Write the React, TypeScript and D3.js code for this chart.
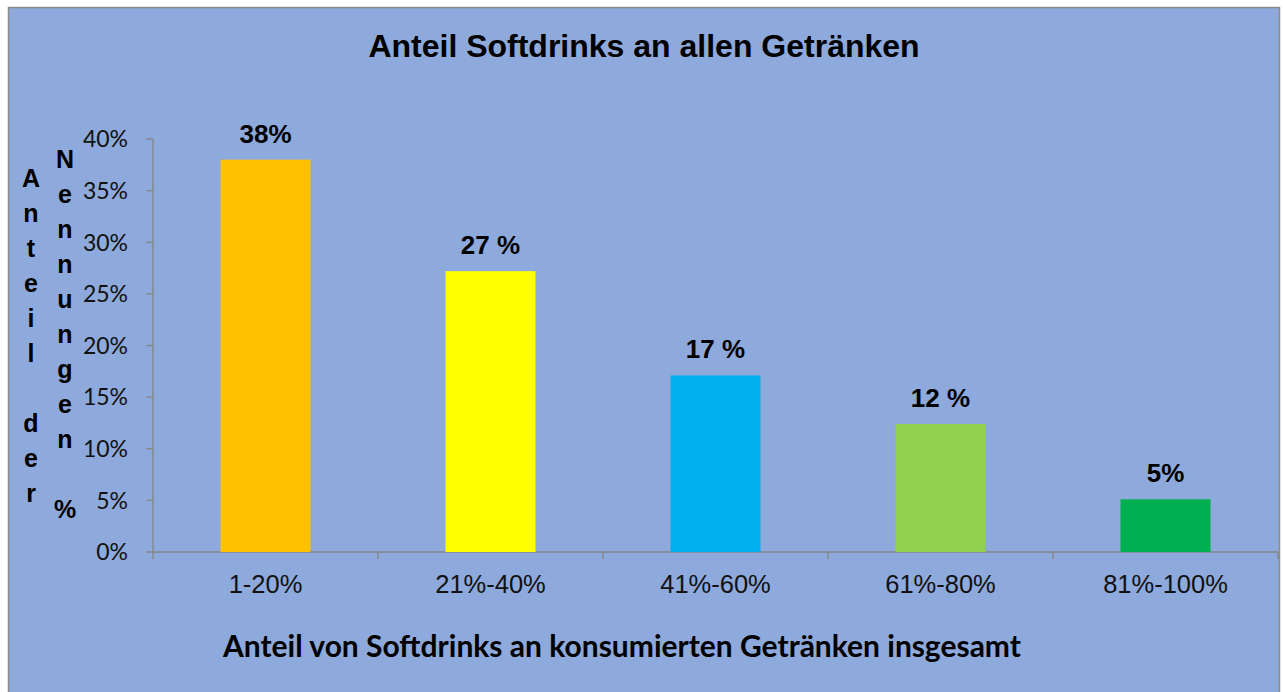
import React from 'react';
import * as d3 from 'd3';

const categories = ['1-20%', '21%-40%', '41%-60%', '61%-80%', '81%-100%'];
const values = [38, 27.2, 17.1, 12.4, 5.1];
const valueLabels = ['38%', '27 %', '17 %', '12 %', '5%'];
const barColors = ['#FFC000', '#FFFF00', '#00B0F0', '#92D050', '#00B050'];
const yTicks = [0, 5, 10, 15, 20, 25, 30, 35, 40];

const title = 'Anteil Softdrinks an allen Getränken';
const xTitle = 'Anteil von Softdrinks an konsumierten Getränken insgesamt';
const yTitle1 = 'Anteil der';
const yTitle2 = 'Nennungen %';

const W = 1283;
const H = 692;
const plot = { left: 153, right: 1278, top: 139, bottom: 552 };
const axisColor = '#868686';

const App = () => {
    const x = d3.scaleBand<string>()
        .domain(categories)
        .range([plot.left, plot.right])
        .paddingInner(0.6)
        .paddingOuter(0.3);

    const y = d3.scaleLinear()
        .domain([0, 40])
        .range([plot.bottom, plot.top]);

    const step = x.step();
    // category boundaries for x-axis ticks
    const xBounds = d3.range(categories.length + 1).map(i => plot.left + i * step);

    return (
        <svg width={W} height={H} style={{ position: 'absolute', left: 0, top: 0 }}>
            <rect x={8.5} y={7.5} width={1271} height={700} fill="#8EA9DB" stroke="#8c8c8c" strokeWidth={1.5} />

            <text x={644} y={57} textAnchor="middle" fontFamily="'Liberation Sans', Arial, sans-serif"
                fontWeight="bold" fontSize={32} fill="#000">{title}</text>

            {/* y axis */}
            <line x1={plot.left} x2={plot.left} y1={plot.top} y2={plot.bottom} stroke={axisColor} strokeWidth={1.3} />
            {yTicks.map(t => (
                <g key={t}>
                    <line x1={plot.left - 7} x2={plot.left} y1={y(t)} y2={y(t)} stroke={axisColor} strokeWidth={1.3} />
                    <text x={128} y={y(t)} dy="0.36em" textAnchor="end" fontFamily="Lato, 'Open Sans', sans-serif"
                        fontSize={23} fill="#111">{t}%</text>
                </g>
            ))}

            {/* x axis */}
            <line x1={plot.left} x2={plot.right} y1={plot.bottom} y2={plot.bottom} stroke={axisColor} strokeWidth={1.3} />
            {xBounds.map((b, i) => (
                <line key={i} x1={b} x2={b} y1={plot.bottom} y2={plot.bottom + 7} stroke={axisColor} strokeWidth={1.3} />
            ))}
            {categories.map(c => (
                <text key={c} x={(x(c) ?? 0) + x.bandwidth() / 2} y={593} textAnchor="middle"
                    fontFamily="'Liberation Sans', Arial, sans-serif" fontSize={25.5} fill="#111">{c}</text>
            ))}

            {/* bars */}
            {categories.map((c, i) => (
                <g key={c}>
                    <rect x={x(c)} y={y(values[i])} width={x.bandwidth()} height={y(0) - y(values[i])} fill={barColors[i]} />
                    <text x={(x(c) ?? 0) + x.bandwidth() / 2} y={y(values[i]) - 17} textAnchor="middle"
                        fontFamily="'Liberation Sans', Arial, sans-serif" fontWeight="bold" fontSize={26} fill="#000">
                        {valueLabels[i]}
                    </text>
                </g>
            ))}

            {/* stacked vertical y titles */}
            {yTitle1.split('').map((ch, i) => (
                <text key={'a' + i} x={31} y={187 + i * 35} textAnchor="middle"
                    fontFamily="'Liberation Sans', Arial, sans-serif" fontWeight="bold" fontSize={25} fill="#000">{ch}</text>
            ))}
            {yTitle2.split('').map((ch, i) => (
                <text key={'b' + i} x={65} y={168 + i * 35} textAnchor="middle"
                    fontFamily="'Liberation Sans', Arial, sans-serif" fontWeight="bold" fontSize={25} fill="#000">{ch}</text>
            ))}

            <text x={622} y={657} textAnchor="middle" fontFamily="Lato, 'Open Sans', sans-serif"
                fontWeight="bold" fontSize={30} fill="#000">{xTitle}</text>
        </svg>
    );
};

export default App;
